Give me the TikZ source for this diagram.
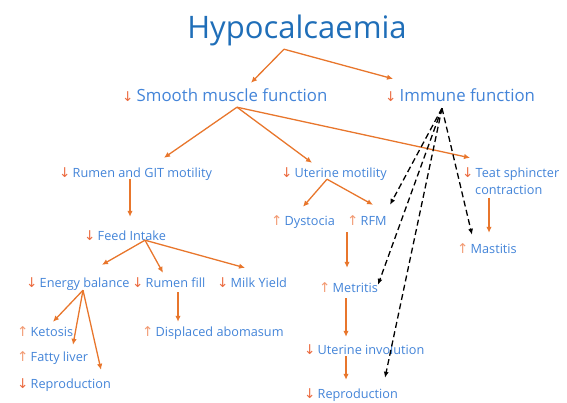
\documentclass[tikz,border=0pt]{standalone}
\usepackage{fontspec}
\setmainfont{Open Sans}
\newfontfamily\arrowfont{DejaVu Sans}
\usetikzlibrary{arrows.meta}
\definecolor{txtblue}{HTML}{4384D8}
\definecolor{titleblue}{HTML}{1F6EB8}
\definecolor{lineorange}{HTML}{E8762C}
\definecolor{dncol}{HTML}{EB6A3E}
\definecolor{upcol}{HTML}{F29A72}
\newcommand{\dnarr}[1][13.5pt]{\makebox[#1][l]{\arrowfont\fontsize{13.5}{15}\selectfont\textcolor{dncol}{↓}}}
\newcommand{\uparr}[1][13.5pt]{\makebox[#1][l]{\arrowfont\fontsize{13.5}{15}\selectfont\textcolor{upcol}{↑}}}

\begin{document}
\begin{tikzpicture}[x=1pt,y=-1pt,
  lbl/.style={anchor=base west,inner sep=0,text height=9,text depth=3,
    font=\fontsize{12.7}{15}\selectfont,text=txtblue},
  midlbl/.style={anchor=base west,inner sep=0,text height=12,text depth=4,
    font=\fontsize{16.8}{20}\selectfont,text=txtblue},
  conn/.style={draw=lineorange,line width=1.3pt,-{Latex[length=6pt,width=5.5pt]}},
  immlink/.style={draw=black,line width=1.3pt,dash pattern=on 6pt off 3.5pt,
    -{Latex[length=6pt,width=5pt]}}]
\useasboundingbox (0,0) rectangle (567,402);
\node[anchor=base,inner sep=0,text height=22,text depth=6,
  font=\fontsize{31}{36}\selectfont,text=titleblue] (title) at (297,38) {Hypocalcaemia};
\node[midlbl] (smooth) at (122,101) {\dnarr[14.5pt]Smooth muscle function};
\node[midlbl] (immune) at (385,101) {\dnarr[14.5pt]Immune function};
\node[lbl] (rumen) at (59,177) {\dnarr Rumen and GIT motility};
\node[lbl] (uterine) at (281,177) {\dnarr Uterine motility};
\node[lbl] (teat) at (462,177) {\dnarr Teat sphincter};
\node[lbl] (teatb) at (475,194.5) {contraction};
\node[lbl] (feed) at (84,240) {\dnarr Feed Intake};
\node[lbl] (energy) at (26,287) {\dnarr Energy balance};
\node[lbl] (rumenfill) at (132,287) {\dnarr Rumen fill};
\node[lbl] (milk) at (217,287) {\dnarr Milk Yield};
\node[lbl] (ketosis) at (17,336) {\uparr Ketosis};
\node[lbl] (fatty) at (17,361) {\uparr Fatty liver};
\node[lbl] (repro1) at (17,388) {\dnarr Reproduction};
\node[lbl] (displaced) at (142,336) {\uparr Displaced abomasum};
\node[lbl] (dystocia) at (271,225) {\uparr Dystocia};
\node[lbl] (rfm) at (347,225) {\uparr RFM};
\node[lbl] (metritis) at (319,292) {\uparr Metritis};
\node[lbl] (involution) at (304,354) {\dnarr Uterine involution};
\node[lbl] (repro2) at (304,398) {\dnarr Reproduction};
\node[lbl] (mastitis) at (457,253) {\uparr Mastitis};
% smooth muscle branch
\draw[conn] ([xshift=-13,yshift=-5]title.south) -- ([xshift=129,yshift=6]smooth.north west);
\draw[conn] ([xshift=-13,yshift=-5]title.south) -- ([xshift=8,yshift=10]immune.north west);
\draw[conn] ([xshift=115,yshift=-2]smooth.south west) -- ([xshift=105,yshift=10]rumen.north west);
\draw[conn] ([xshift=115,yshift=-2]smooth.south west) -- ([xshift=31,yshift=5]uterine.north west);
\draw[conn] ([xshift=115,yshift=-2]smooth.south west) -- ([xshift=8,yshift=10]teat.north west);
\draw[conn] ([xshift=71,yshift=1]rumen.south west) -- ([xshift=46,yshift=14]feed.north west);
\draw[conn] ([xshift=61,yshift=3]feed.south west) -- ([xshift=76,yshift=13]energy.north west);
\draw[conn] ([xshift=61,yshift=3]feed.south west) -- ([xshift=31,yshift=5]rumenfill.north west);
\draw[conn] ([xshift=61,yshift=3]feed.south west) -- ([xshift=28,yshift=10]milk.north west);
\draw[conn] ([xshift=57]energy.south west) -- ([xshift=36,yshift=5]ketosis.north west);
\draw[conn] ([xshift=57]energy.south west) -- ([xshift=56,yshift=7]fatty.north west);
\draw[conn] ([xshift=57]energy.south west) -- ([xshift=84,yshift=9]repro1.north west);
\draw[conn] ([xshift=46,yshift=-2]rumenfill.south west) -- ([xshift=36,yshift=5]displaced.north west);
\draw[conn] ([xshift=46,yshift=1]uterine.south west) -- ([xshift=32,yshift=9]dystocia.north west);
\draw[conn] ([xshift=46,yshift=1]uterine.south west) -- ([xshift=26,yshift=11]rfm.north west);
\draw[conn] ([xshift=0,yshift=-4]rfm.south west) -- ([xshift=28,yshift=15]metritis.north west);
\draw[conn] ([xshift=27,yshift=-3]metritis.south west) -- ([xshift=42,yshift=8]involution.north west);
\draw[conn] ([xshift=42,yshift=1]involution.south west) -- ([xshift=42,yshift=9]repro2.north west);
\draw[conn] ([xshift=14]teatb.south west) -- ([xshift=32,yshift=11]mastitis.north west);
% immune branch
\draw[immlink] ([xshift=57,yshift=-3]immune.south west) -- ([xshift=43,yshift=11]rfm.north west);
\draw[immlink] ([xshift=57,yshift=-3]immune.south west) -- ([xshift=59,yshift=-2]metritis.north west);
\draw[immlink] ([xshift=57,yshift=-3]immune.south west) -- ([xshift=81,yshift=11]repro2.north west);
\draw[immlink] ([xshift=57,yshift=-3]immune.south west) -- ([xshift=15,yshift=9]mastitis.north west);
\end{tikzpicture}
\end{document}
